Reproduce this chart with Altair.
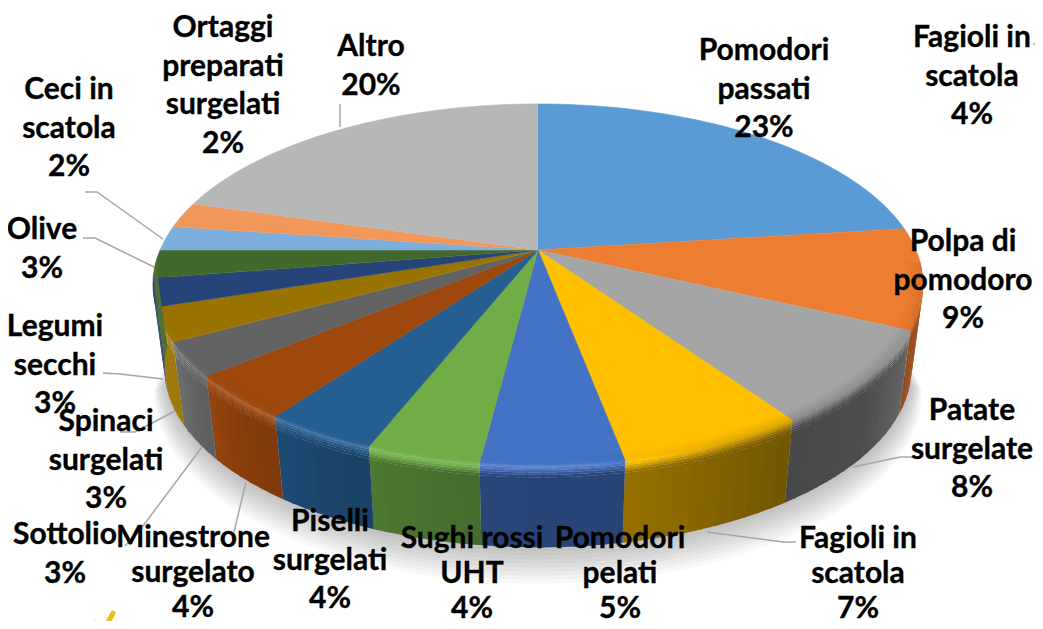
import altair as alt
import numpy as np
import pandas as pd

# --- chart data ------------------------------------------------------------
SHARES = [23, 9, 8.4, 6.6, 5, 4, 4, 4, 3, 3, 2.5, 2.5, 2.2, 2.3, 20.5]
COLORS = ["#5B9BD5", "#ED7D31", "#A5A5A5", "#FFC000", "#4472C4", "#70AD47", "#255E91",
          "#9E480E", "#636363", "#997300", "#264478", "#43682B", "#7CAFDD", "#F1975A", "#B7B7B7"]
LABELS = ["Pomodori\npassati\n23%", "Fagioli in\nscatola\n4%", "Polpa di\npomodoro\n9%",
          "Patate\nsurgelate\n8%", "Fagioli in\nscatola\n7%", "Pomodori\npelati\n5%",
          "Sughi rossi\nUHT\n4%", "Piselli\nsurgelati\n4%", "Minestrone\nsurgelato\n4%",
          "Sottolio\n3%", "Spinaci\nsurgelati\n3%", "Legumi\nsecchi\n3%", "Olive\n3%",
          "Ceci in\nscatola\n2%", "Ortaggi\npreparati\nsurgelati\n2%", "Altro\n20%"]

# --- layout (picture pixels) -----------------------------------------------
LABEL_X = [764, 972, 963, 972, 858, 620, 472, 330, 193, 65, 106, 55, 42, 69, 223, 371]
LABEL_Y = [50, 37, 241, 410, 538, 538, 538, 521, 537, 534, 421, 326, 229, 89, 27, 46]
BOTTOM_ROW = ["Fagioli in\nscatola\n7%", "Pomodori\npelati\n5%", "Sughi rossi\nUHT\n4%",
              "Minestrone\nsurgelato\n4%"]
LEADERS = [[(1033, 44), (1043, 44)],
           [(853, 467), (900, 457), (912, 457)],
           [(707, 532), (783, 542), (796, 542)],
           [(246, 482), (234, 532)],
           [(202, 447), (140, 530), (125, 546)],
           [(175, 411), (135, 432), (120, 432)],
           [(103, 373), (120, 374), (163, 379)],
           [(83, 238), (95, 238), (154, 267)],
           [(85, 192), (97, 192), (163, 239)],
           [(340, 104), (340, 127)]]
LOGO = [[(113, 613), (103, 632)], [(95, 623), (90, 632)], [(81, 628), (78, 632)]]
CX, CY, A, B, K = 538, 250, 378, 174, 0.191
RX_LOW, RY_LOW, DEPTH = 0.97, 0.90, 84
BAND_EDGES = [-.04, -.03, -.02, -.01, 0, .03, .06, .09, .12, .15, 1.0]


def ring(theta, rx=1.0, ry=1.0, drop=0.0):
    t = np.radians(theta)
    den = 1 + K * np.cos(t)
    return CX + A * rx * np.sin(t) / den, CY - B * ry * np.cos(t) / den + drop / den


def surface(theta, u):
    """u < 0: on the top face, just inside the rim; u >= 0: down the wall."""
    if u < 0:
        return ring(theta, 1 + u, 1 + u)
    return ring(theta, 1 - (1 - RX_LOW) * u, 1 - (1 - RY_LOW) * u, DEPTH * u)


def mix(col, f):
    c = [int(col[i:i + 2], 16) for i in (1, 3, 5)]
    if f <= 1:
        c = [v * f for v in c]
    else:
        c = [v + (255 - v) * (f - 1) for v in c]
    return "#%02x%02x%02x" % tuple(int(min(255, v)) for v in c)


def wall_shade(th):
    return float(np.interp(th, [100, 115, 130, 145, 170, 187, 205, 222, 240, 255, 270],
                           [.70, .62, .47, .44, .60, .62, .72, .85, 1.06, 1.04, 1.08]))


def tone_factor(th, u):
    sh = wall_shade(th)
    right = float(np.clip((175 - th) / 20, 0, 1))      # 1 on the shaded right, 0 front-left
    ramp = float(np.interp(u, [-.04, .12], [1, sh]))
    glow = float(np.interp(u, [-.01, .02, .05, .14], [1, 1.16, 1.05, sh]))
    if u < -.01:
        glow = 1.0
    return right * ramp + (1 - right) * glow


polys = []


def add(xs, ys, color, layer):
    polys.append(pd.DataFrame({"poly": len(polys), "seq": range(len(xs)), "x": xs, "y": ys,
                               "color": color, "layer": layer}))


edges = np.concatenate([[0], np.cumsum(SHARES)]) * 3.6

# soft shadow under the pie
for i in range(10):
    th = np.arange(100, 261, 4.0)
    x, y = ring(th, RX_LOW + i * 0.003, RY_LOW + i * 0.005, DEPTH + i * 2.4)
    add(list(x) + [CX], list(y) + [CY], "#000000", "shadow")

# top faces
for k, col in enumerate(COLORS):
    th = np.linspace(edges[k], edges[k + 1], max(3, int(SHARES[k] * 3.6 / 2)))
    x, y = ring(th)
    add([CX] + list(x), [CY] + list(y), col, "face")

# wall and bevel, painted bottom band first; each cell overlaps its neighbours a little
for k, col in enumerate(COLORS):
    a0, a1 = max(edges[k], 94.0), min(edges[k + 1], 266.0)
    if a1 <= a0:
        continue
    steps = np.linspace(a0, a1, max(1, int((a1 - a0) / 2.0)) + 1)
    for s0, s1 in zip(steps[:-1], steps[1:]):
        mid = (s0 + s1) / 2
        s1b = min(s1 + 0.4, a1)
        for lo, hi in reversed(list(zip(BAND_EDGES[:-1], BAND_EDGES[1:]))):
            xa, ya = surface(np.array([s0, s1b]), lo)
            xb, yb = surface(np.array([s1b, s0]), hi)
            add(list(xa) + list(xb), list(ya) + list(yb), mix(col, tone_factor(mid, (lo + hi) / 2 if hi < 1 else 0.2)), "wall")

shape_df = pd.concat(polys, ignore_index=True)

leader_df = pd.DataFrame([{"id": i, "seq": j, "x": p[0], "y": p[1]}
                          for i, line in enumerate(LEADERS) for j, p in enumerate(line)])
logo_df = pd.DataFrame([{"id": i, "seq": j, "x": p[0], "y": p[1]}
                        for i, line in enumerate(LOGO) for j, p in enumerate(line)])
label_df = pd.DataFrame({"x": LABEL_X, "y": [v - 14 for v in LABEL_Y], "text": LABELS})
is_bottom = label_df.text.isin(BOTTOM_ROW)

X = alt.X("x:Q", axis=None, scale=alt.Scale(domain=[8, 1035]))
Y = alt.Y("y:Q", axis=None, scale=alt.Scale(domain=[621, 8]))

shadow = alt.Chart(shape_df[shape_df.layer == "shadow"]).mark_line(
    fill="#000000", stroke=None, fillOpacity=0.028).encode(X, Y, detail="poly:N", order="seq:Q")
face = alt.Chart(shape_df[shape_df.layer == "face"]).mark_line(strokeWidth=0.6).encode(
    X, Y, detail="poly:N", order="seq:Q",
    stroke=alt.Stroke("color:N", scale=None, legend=None),
    fill=alt.Fill("color:N", scale=None, legend=None))
wall = alt.Chart(shape_df[shape_df.layer == "wall"]).mark_line(strokeWidth=0, stroke=None).encode(
    X, Y, detail="poly:N", order="seq:Q",
    fill=alt.Fill("color:N", scale=None, legend=None))
leaders = alt.Chart(leader_df).mark_line(color="#a6a6a6", strokeWidth=1.5, clip=True).encode(
    X, Y, detail="id:N", order="seq:Q")
logo = alt.Chart(logo_df).mark_line(color="#eebb22", strokeWidth=5, strokeCap="round", clip=True).encode(
    X, Y, detail="id:N", order="seq:Q")
text_style = dict(font="Lato", fontWeight="bold", fontSize=30, lineBreak="\n", baseline="top",
                  align="center", color="#000000", stroke="#000000", strokeWidth=0.35)
labels = alt.Chart(label_df[~is_bottom]).mark_text(lineHeight=38.5, **text_style).encode(X, Y, text="text:N")
labels_low = alt.Chart(label_df[is_bottom]).mark_text(lineHeight=35, **text_style).encode(X, Y, text="text:N")

chart = alt.layer(shadow, face, wall, leaders, logo, labels, labels_low).properties(
    width=1027, height=613, padding=0,
    autosize=alt.AutoSizeParams(type="none"),
    background="#ffffff",
).configure_view(stroke=None)

chart.save("out.html", embed_options={"renderer": "svg", "actions": False})
